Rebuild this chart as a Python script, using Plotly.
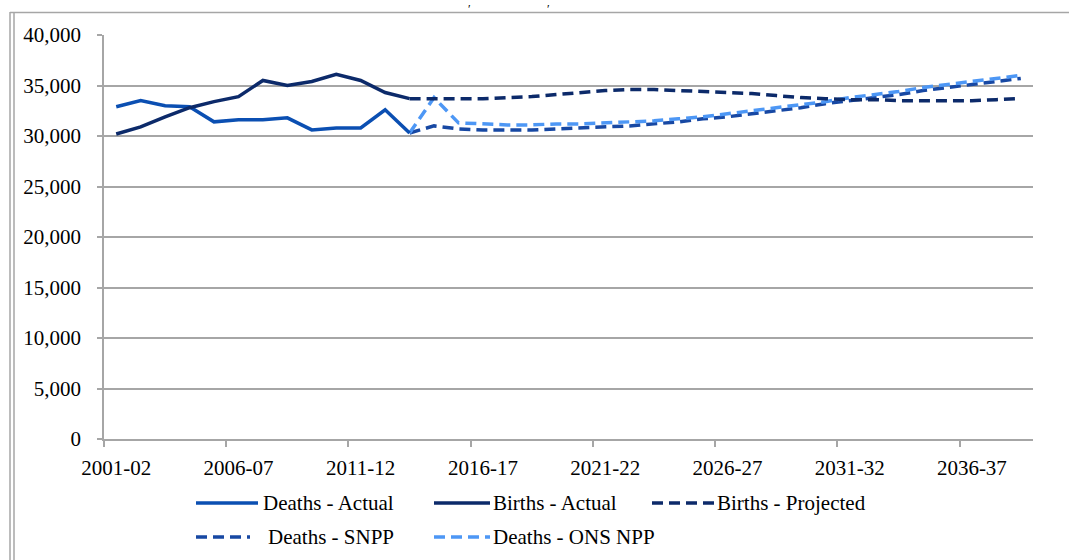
import plotly.graph_objects as go

# ---------------- data ----------------
categories = ["2001-02", "2002-03", "2003-04", "2004-05", "2005-06", "2006-07", "2007-08",
              "2008-09", "2009-10", "2010-11", "2011-12", "2012-13", "2013-14", "2014-15",
              "2015-16", "2016-17", "2017-18", "2018-19", "2019-20", "2020-21", "2021-22",
              "2022-23", "2023-24", "2024-25", "2025-26", "2026-27", "2027-28", "2028-29",
              "2029-30", "2030-31", "2031-32", "2032-33", "2033-34", "2034-35", "2035-36",
              "2036-37", "2037-38", "2038-39"]
tick_labels = ["2001-02", "2006-07", "2011-12", "2016-17", "2021-22", "2026-27", "2031-32", "2036-37"]

# actual: 2001-02 .. 2013-14
deaths_actual = [32900, 33500, 33000, 32900, 31400, 31600, 31600, 31800, 30600, 30800, 30800, 32600, 30300]
births_actual = [30200, 30900, 31900, 32800, 33400, 33900, 35500, 35000, 35400, 36100, 35500, 34300, 33700]

# projections: 2013-14 .. 2038-39
births_projected = [33700, 33700, 33700, 33700, 33800, 33900, 34100, 34300, 34500, 34600, 34600, 34500,
                    34400, 34300, 34200, 34000, 33800, 33700, 33600, 33600, 33500, 33500, 33500, 33500,
                    33600, 33700]
deaths_snpp = [30300, 31000, 30700, 30600, 30600, 30600, 30700, 30800, 30900, 31000, 31200, 31400,
               31700, 31900, 32200, 32500, 32800, 33200, 33500, 33800, 34100, 34500, 34800, 35100,
               35400, 35700]
deaths_ons = [30300, 33800, 31300, 31200, 31100, 31100, 31200, 31200, 31300, 31400, 31500, 31700,
              31900, 32200, 32500, 32800, 33100, 33400, 33800, 34100, 34400, 34800, 35100, 35400,
              35700, 36000]

# ---------------- styling ----------------
W, H = 1069, 560
L, R, T, B = 104, 1033, 35, 439  # plot area in pixels
FONT = "Liberation Serif"
FS = 21
GRID = "#A6A6A6"
C_DEATHS = "#0B4FB2"
C_BIRTHS = "#0C2A6A"
C_SNPP = "#1748A3"
C_ONS = "#4D97F5"
LW = 3.5
DASH = "11px,6px"


def px(x):
    return (x - L) / (R - L)


def py(y):
    return (B - y) / (B - T)


idx = list(range(len(categories)))
act_x = idx[:len(deaths_actual)]
proj_x = idx[len(deaths_actual) - 1:len(deaths_actual) - 1 + len(births_projected)]

series = [
    ("Deaths - Actual", act_x, deaths_actual, C_DEATHS, "solid"),
    ("Births - Actual", act_x, births_actual, C_BIRTHS, "solid"),
    ("Births - Projected", proj_x, births_projected, C_BIRTHS, DASH),
    ("Deaths - SNPP", proj_x, deaths_snpp, C_SNPP, DASH),
    ("Deaths - ONS NPP", proj_x, deaths_ons, C_ONS, DASH),
]

fig = go.Figure()
draw_order = [3, 4, 2, 0, 1]
for i in draw_order:
    name, xs, ys, col, dash = series[i]
    fig.add_trace(go.Scatter(
        x=xs, y=ys, mode="lines", name=name,
        line=dict(color=col, width=LW, dash=dash),
        customdata=[categories[k] for k in xs],
        hovertemplate="%{customdata}: %{y:,}<extra>" + name + "</extra>",
        showlegend=False,
    ))

shapes = []
annotations = []

# manual legend laid out like the original
legend_items = [
    (0, 196, 258, 261, 503),
    (1, 434, 490, 491, 503),
    (2, 652, 714, 715, 503),
    (3, 196, 250, 266, 537),
    (4, 434, 490, 491, 537),
]
for si, x0, x1, tx, y in legend_items:
    name, _, _, col, dash = series[si]
    shapes.append(dict(type="line", xref="paper", yref="paper",
                       x0=px(x0), x1=px(x1), y0=py(y), y1=py(y),
                       line=dict(color=col, width=LW, dash=dash)))
    annotations.append(dict(text=name, xref="paper", yref="paper", x=px(tx), y=py(y),
                            xanchor="left", yanchor="middle", showarrow=False,
                            font=dict(family=FONT, size=FS, color="#000000")))

# chart-area border (left double line and top line)
for xv in (10, 14):
    shapes.append(dict(type="line", xref="paper", yref="paper", x0=px(xv), x1=px(xv),
                       y0=py(12), y1=py(560), line=dict(color=GRID, width=1.5)))
shapes.append(dict(type="line", xref="paper", yref="paper", x0=px(10), x1=px(1069),
                   y0=py(12.5), y1=py(12.5), line=dict(color=GRID, width=1.5)))

# remnants of a cropped title
for xv in (469, 548):
    annotations.append(dict(text="\u2032", xref="paper", yref="paper", x=px(xv), y=py(0),
                            xanchor="center", yanchor="top", showarrow=False,
                            font=dict(family=FONT, size=12, color="#000000")))

fig.update_layout(
    width=W, height=H, autosize=False,
    margin=dict(l=L, r=W - R, t=T, b=H - B, pad=0),
    paper_bgcolor="white", plot_bgcolor="white",
    font=dict(family=FONT, size=FS, color="#000000"),
    shapes=shapes, annotations=annotations,
    showlegend=False,
)
fig.update_xaxes(
    range=[-0.5, len(categories) - 0.5],
    tickmode="array",
    tickvals=[categories.index(t) for t in tick_labels],
    ticktext=tick_labels,
    ticks="", showgrid=False, zeroline=False,
    showline=True, linecolor=GRID, linewidth=1.5,
    ticklabelstandoff=9,
    tickfont=dict(family=FONT, size=FS, color="#000000"),
    minor=dict(tickmode="array",
               tickvals=[categories.index(t) - 0.5 for t in tick_labels],
               ticks="outside", ticklen=6, tickcolor=GRID, tickwidth=1.5, showgrid=False),
)
fig.update_yaxes(
    range=[0, 40000], dtick=5000, tick0=0, tickformat=",",
    showgrid=True, gridcolor=GRID, gridwidth=1.5, zeroline=False,
    showline=True, linecolor=GRID, linewidth=1.5,
    ticks="outside", ticklen=5, tickcolor=GRID, tickwidth=1.5,
    ticklabelstandoff=12,
    tickfont=dict(family=FONT, size=FS, color="#000000"),
)

fig.write_html("out.html", config={"displayModeBar": False},
               post_script="document.body.style.margin='0px';")
